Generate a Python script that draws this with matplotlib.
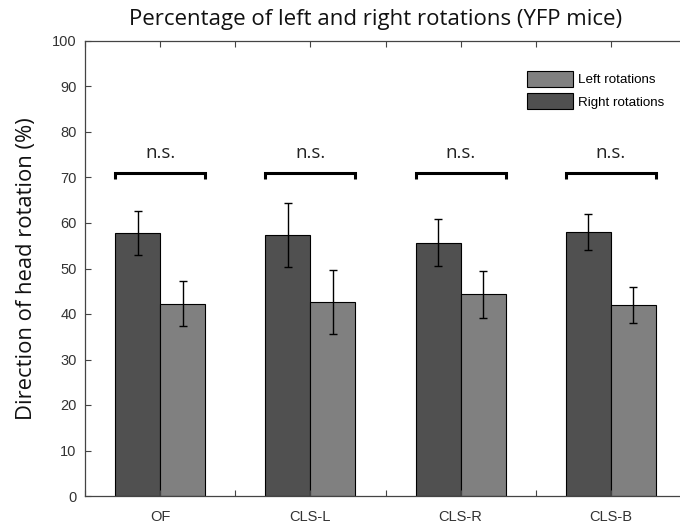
import matplotlib
matplotlib.use("Agg")
import matplotlib.pyplot as plt
import numpy as np
from matplotlib.patches import Patch

categories = ["OF", "CLS-L", "CLS-R", "CLS-B"]
right_rot = [57.8, 57.4, 55.7, 58.0]
right_err = [4.8, 7.1, 5.2, 3.9]
left_rot = [42.3, 42.6, 44.3, 42.0]
left_err = [4.9, 7.1, 5.2, 4.0]
sig_labels = ["n.s.", "n.s.", "n.s.", "n.s."]
sig_level = 71

dark = "#505050"
light = "#808080"
tick_font = "Liberation Sans"
text_font = "Open Sans"

W, H = 680, 526
fig = plt.figure(figsize=(W / 100, H / 100), dpi=100)
ax = fig.add_axes([85 / W, 1 - 496 / H, 601 / W, 455 / H])

x = np.arange(1, len(categories) + 1)
w = 0.3
ekw = dict(ecolor="black", elinewidth=1.0, capsize=3.2, capthick=1.0)
ax.bar(x - w / 2, right_rot, w, color=dark, edgecolor="black", linewidth=0.8,
       yerr=right_err, error_kw=ekw)
ax.bar(x + w / 2, left_rot, w, color=light, edgecolor="black", linewidth=0.8,
       yerr=left_err, error_kw=ekw)

# significance brackets
for xi, lab in zip(x, sig_labels):
    x0, x1 = xi - w, xi + w
    ax.plot([x0, x0, x1, x1], [sig_level - 1.3, sig_level, sig_level, sig_level - 1.3],
            color="black", linewidth=2.2, solid_capstyle="butt", solid_joinstyle="miter")
    ax.text(xi, sig_level + 2.3, lab, ha="center", va="bottom",
            fontsize=13.5, family=text_font, color="#222222")

ax.set_xlim(0.5, 4.5)
ax.set_ylim(0, 100)
ax.set_yticks(np.arange(0, 101, 10))
ax.set_xticks(x)
ax.set_xticklabels(categories)
ax.set_xticks(np.arange(0.5, 4.51, 0.5), minor=True)
ax.tick_params(axis="both", which="both", direction="in", top=True, right=True,
               length=4, width=0.8, colors="#444444", labelcolor="#333333",
               labelsize=10.5)
ax.tick_params(axis="x", which="major", pad=10)
ax.tick_params(axis="y", which="major", pad=6)
for lbl in ax.get_xticklabels() + ax.get_yticklabels():
    lbl.set_family(tick_font)
for s in ax.spines.values():
    s.set_color("#444444")
    s.set_linewidth(0.9)

ax.set_ylabel("Direction of head rotation (%)", fontsize=15.8, family=text_font,
              color="#111111", labelpad=11)
fig.text(376 / W, 1 - 20 / H, "Percentage of left and right rotations (YFP mice)",
         fontsize=16, family=text_font, color="#111111", ha="center", va="center")

handles = [Patch(facecolor=light, edgecolor="black", linewidth=0.8),
           Patch(facecolor=dark, edgecolor="black", linewidth=0.8)]
leg = ax.legend(handles, ["Left rotations", "Right rotations"], loc="upper left",
                bbox_to_anchor=((527 - 85) / 601, (496 - 71) / 455), frameon=False,
                prop=dict(family=tick_font, size=9.6), handlelength=3.45,
                handleheight=1.43, handletextpad=0.35, labelspacing=0.5,
                borderpad=0, borderaxespad=0)

fig.savefig("out.png", dpi=100)
